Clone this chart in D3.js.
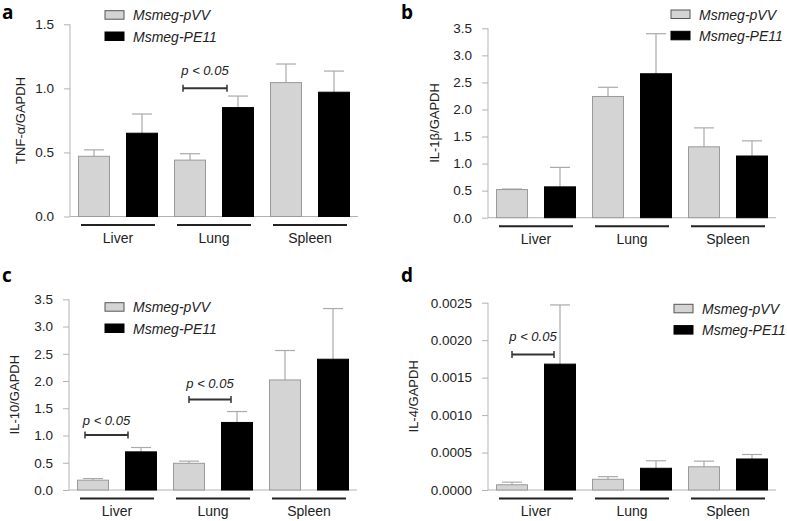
<!DOCTYPE html>
<html><head><meta charset="utf-8">
<script src="https://cdn.jsdelivr.net/npm/d3@7"></script>
<style>
body{margin:0;background:#fff;}
svg{display:block;}
svg text{font-family:Arial,"Liberation Sans",Helvetica,sans-serif;}
svg text.letter{font-family:"Open Sans",Arial,sans-serif;}
</style></head>
<body>
<svg id="chart" width="787" height="521"></svg>
<script>
// ---------- data ----------
const categories = ["Liver", "Lung", "Spleen"];
const seriesNames = ["Msmeg-pVV", "Msmeg-PE11"];

// a: TNF-α
const tnfPVV = [0.47, 0.44, 1.045];
const tnfPVVErr = [0.05, 0.05, 0.145];
const tnfPE11 = [0.65, 0.85, 0.97];
const tnfPE11Err = [0.15, 0.09, 0.165];
const tnfTicks = [0.0, 0.5, 1.0, 1.5];

// b: IL-1β
const il1bPVV = [0.52, 2.24, 1.31];
const il1bPVVErr = [0.01, 0.17, 0.35];
const il1bPE11 = [0.57, 2.66, 1.14];
const il1bPE11Err = [0.36, 0.74, 0.28];
const il1bTicks = [0.0, 0.5, 1.0, 1.5, 2.0, 2.5, 3.0, 3.5];

// c: IL-10
const il10PVV = [0.18, 0.49, 2.02];
const il10PVVErr = [0.03, 0.04, 0.54];
const il10PE11 = [0.70, 1.24, 2.40];
const il10PE11Err = [0.08, 0.20, 0.93];
const il10Ticks = [0.0, 0.5, 1.0, 1.5, 2.0, 2.5, 3.0, 3.5];

// d: IL-4
const il4PVV = [0.00007, 0.000143, 0.00031];
const il4PVVErr = [0.000035, 0.000035, 0.000075];
const il4PE11 = [0.00168, 0.00029, 0.000414];
const il4PE11Err = [0.00079, 0.0001, 0.00006];
const il4Ticks = [0.0, 0.0005, 0.0010, 0.0015, 0.0020, 0.0025];

// significance annotations: [category, bar value, text value]
const sigA = [["Lung", 1.0, 1.14]];
const sigC = [["Liver", 1.01, 1.28], ["Lung", 1.66, 1.96]];
const sigD = [["Liver", 0.00181, 0.00205]];

// ---------- layout ----------
const panels = [
  {letter:"a", lx:2, ly:19, title:"TNF-α/GAPDH", pvv:tnfPVV, pvvE:tnfPVVErr, pe:tnfPE11, peE:tnfPE11Err,
   ticks:tnfTicks, fmt:d3.format(".1f"), axisX:70, yTop:24.3, yBase:216.5, titleX:25,
   legX:105, legY:10.7, sig:sigA, sigOff:[17,61]},
  {letter:"b", lx:401, ly:19, title:"IL-1β/GAPDH", pvv:il1bPVV, pvvE:il1bPVVErr, pe:il1bPE11, peE:il1bPE11Err,
   ticks:il1bTicks, fmt:d3.format(".1f"), axisX:488, yTop:28.3, yBase:217.7, titleX:439,
   legX:671, legY:10, sig:[], sigOff:[0,0]},
  {letter:"c", lx:2, ly:282, title:"IL-10/GAPDH", pvv:il10PVV, pvvE:il10PVVErr, pe:il10PE11, peE:il10PE11Err,
   ticks:il10Ticks, fmt:d3.format(".1f"), axisX:69, yTop:299.3, yBase:490, titleX:19,
   legX:105, legY:302.7, sig:sigC, sigOff:[16,59], sigOff2:[24,66]},
  {letter:"d", lx:401, ly:282, title:"IL-4/GAPDH", pvv:il4PVV, pvvE:il4PVVErr, pe:il4PE11, peE:il4PE11Err,
   ticks:il4Ticks, fmt:d3.format(".4f"), axisX:488, yTop:302.7, yBase:490, titleX:418,
   legX:674, legY:304.3, sig:sigD, sigOff:[24,66]}
];

const svg = d3.select("#chart");
const axisColor = "#b3b3b3";
const colors = ["#d4d4d4", "#000000"];
const strokes = ["#9a9a9a", "#000000"];

panels.forEach(p => {
  const g = svg.append("g");
  const yMax = p.ticks[p.ticks.length - 1];
  const y = d3.scaleLinear().domain([0, yMax]).range([p.yBase, p.yTop]);
  const x0 = d3.scaleBand().domain(categories).range([p.axisX, p.axisX + 288]).padding(0);
  const x1 = d3.scaleBand().domain(seriesNames).range([0, x0.bandwidth()]).paddingInner(1/3).paddingOuter(1/6);

  // panel letter
  g.append("text").attr("class", "letter").attr("x", p.lx).attr("y", p.ly).text(p.letter)
    .attr("font-size", 19).attr("font-weight", "bold").attr("fill", "#000");

  // y axis
  const yAxis = d3.axisLeft(y).tickValues(p.ticks).tickFormat(p.fmt).tickSize(6).tickPadding(10);
  const ya = g.append("g").attr("transform", `translate(${p.axisX},0)`).call(yAxis);
  ya.attr("font-family", null).attr("font-size", null);
  ya.select(".domain").remove();
  ya.selectAll(".tick line").attr("stroke", axisColor);
  ya.selectAll(".tick text").attr("font-size", 13.5).attr("fill", "#222");
  g.append("line").attr("x1", p.axisX).attr("x2", p.axisX).attr("y1", p.yTop).attr("y2", p.yBase)
    .attr("stroke", axisColor);
  // x axis baseline
  g.append("line").attr("x1", p.axisX).attr("x2", p.axisX + 288).attr("y1", p.yBase).attr("y2", p.yBase)
    .attr("stroke", axisColor);

  // y title
  g.append("text").attr("transform", `translate(${p.titleX},${(p.yTop + p.yBase) / 2}) rotate(-90)`)
    .attr("text-anchor", "middle").attr("font-size", 13).attr("fill", "#222").text(p.title);

  // bars
  const rows = categories.map((c, i) => ({cat: c, vals: [
    {s: seriesNames[0], v: p.pvv[i], e: p.pvvE[i], k: 0},
    {s: seriesNames[1], v: p.pe[i], e: p.peE[i], k: 1}]}));
  const grp = g.selectAll(".grp").data(rows).enter().append("g")
    .attr("transform", d => `translate(${x0(d.cat)},0)`);
  const bar = grp.selectAll(".bar").data(d => d.vals).enter();
  bar.append("line").attr("x1", d => x1(d.s) + x1.bandwidth() / 2).attr("x2", d => x1(d.s) + x1.bandwidth() / 2)
    .attr("y1", d => y(d.v)).attr("y2", d => y(d.v + d.e)).attr("stroke", "#aaaaaa").attr("stroke-width", 1.2);
  bar.append("line").attr("x1", d => x1(d.s) + x1.bandwidth() / 2 - 10).attr("x2", d => x1(d.s) + x1.bandwidth() / 2 + 10)
    .attr("y1", d => y(d.v + d.e)).attr("y2", d => y(d.v + d.e)).attr("stroke", "#aaaaaa").attr("stroke-width", 1.2);
  bar.append("rect").attr("x", d => x1(d.s) + 0.5).attr("width", x1.bandwidth() - 1)
    .attr("y", d => y(d.v)).attr("height", d => p.yBase - y(d.v))
    .attr("fill", d => colors[d.k]).attr("stroke", d => strokes[d.k]).attr("stroke-width", 1);

  // category underlines and labels
  categories.forEach(c => {
    const cx = x0(c) + x0.bandwidth() / 2;
    g.append("line").attr("x1", cx - 37).attr("x2", cx + 37).attr("y1", p.yBase + 8.5).attr("y2", p.yBase + 8.5)
      .attr("stroke", "#222").attr("stroke-width", 2);
    g.append("text").attr("x", cx).attr("y", p.yBase + 26).attr("text-anchor", "middle")
      .attr("font-size", 14).attr("fill", "#222").text(c);
  });

  // significance markers
  p.sig.forEach((s, i) => {
    const off = (i === 1 && p.sigOff2) ? p.sigOff2 : p.sigOff;
    const xa = x0(s[0]) + off[0], xb = x0(s[0]) + off[1];
    const yy = y(s[1]);
    g.append("line").attr("x1", xa).attr("x2", xb).attr("y1", yy).attr("y2", yy).attr("stroke", "#333").attr("stroke-width", 2);
    g.append("line").attr("x1", xa).attr("x2", xa).attr("y1", yy - 3.5).attr("y2", yy + 3.5).attr("stroke", "#333").attr("stroke-width", 1.5);
    g.append("line").attr("x1", xb).attr("x2", xb).attr("y1", yy - 3.5).attr("y2", yy + 3.5).attr("stroke", "#333").attr("stroke-width", 1.5);
    g.append("text").attr("x", (xa + xb) / 2).attr("y", y(s[2]) + 5).attr("text-anchor", "middle")
      .attr("font-size", 13).attr("font-style", "italic").attr("fill", "#222").text("p < 0.05");
  });

  // legend
  seriesNames.forEach((n, i) => {
    const ly = p.legY + i * 21.3;
    g.append("rect").attr("x", p.legX).attr("y", ly).attr("width", 19).attr("height", 8.5)
      .attr("fill", colors[i]).attr("stroke", i === 0 ? "#555" : "#000").attr("stroke-width", 1);
    g.append("text").attr("x", p.legX + 28).attr("y", ly + 9.5).attr("font-size", 14)
      .attr("font-style", "italic").attr("fill", "#222").text(n);
  });
});
</script>
</body></html>
